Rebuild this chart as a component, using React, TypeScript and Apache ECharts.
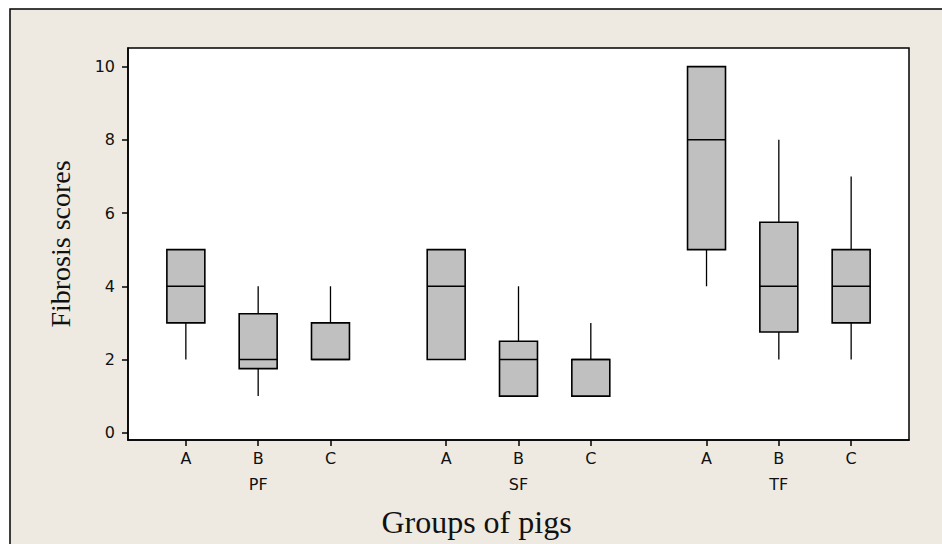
import React, { useEffect, useRef } from "react";
import * as echarts from "echarts";

// Box positions on the x scale (groups separated by a gap)
const X_POS = [1, 2, 3, 4.6, 5.6, 6.6, 8.2, 9.2, 10.2];
const SUB_LABELS = ["A", "B", "C", "A", "B", "C", "A", "B", "C"];
const GROUP_POS = [2, 5.6, 9.2];
const GROUP_LABELS = ["PF", "SF", "TF"];

const MIN = [2, 1, 2, 2, 1, 1, 4, 2, 2];
const Q1 = [3, 1.75, 2, 2, 1, 1, 5, 2.75, 3];
const MED = [4, 2, 2, 4, 2, 2, 8, 4, 4];
const Q3 = [5, 3.25, 3, 5, 2.5, 2, 10, 5.75, 5];
const MAX = [5, 4, 4, 5, 4, 3, 10, 8, 7];

const Y_TICKS = [0, 2, 4, 6, 8, 10];
const BOX_W = 0.525;

export default function App() {
  const ref = useRef<HTMLDivElement>(null);
  useEffect(() => {
    if (!ref.current) return;
    const chart = echarts.init(ref.current, null, { renderer: "svg" });
    const data = X_POS.map((x, i) => [x, MIN[i], Q1[i], MED[i], Q3[i], MAX[i]]);
    const tickFont = { fontFamily: "DejaVu Sans", fontSize: 16, color: "#111" };
    const option: any = {
      animation: false,
      graphic: [
        {
          type: "rect",
          z: -100,
          shape: { x: 10, y: 9, width: 1000, height: 600 },
          style: { fill: "#EEEAE1", stroke: "#000", lineWidth: 1.5 },
          silent: true,
        },
        {
          type: "text",
          x: 476.5,
          y: 522,
          style: {
            text: "Groups of pigs",
            fontFamily: "Liberation Serif",
            fontSize: 32,
            fill: "#111",
            align: "center",
            verticalAlign: "middle",
          },
        },
      ],
      grid: {
        left: 128,
        top: 48,
        right: 33,
        bottom: 104,
        show: true,
        backgroundColor: "#fff",
        borderColor: "#000",
        borderWidth: 1.5,
      },
      xAxis: [
        {
          type: "value",
          min: 0.2,
          max: 11,
          position: "bottom",
          axisLine: { show: true, onZero: false, lineStyle: { color: "#000", width: 1.5 } },
          axisTick: { show: true, length: 6, customValues: X_POS, lineStyle: { color: "#000", width: 1.5 } },
          axisLabel: {
            ...tickFont,
            margin: 10,
            customValues: X_POS,
            formatter: (v: number) => {
              const i = X_POS.findIndex((p) => Math.abs(p - v) < 1e-6);
              return i >= 0 ? SUB_LABELS[i] : "";
            },
          },
          splitLine: { show: false },
        },
        {
          type: "value",
          min: 0.2,
          max: 11,
          position: "bottom",
          offset: 26,
          axisLine: { show: false },
          axisTick: { show: false },
          axisLabel: {
            ...tickFont,
            margin: 10,
            customValues: GROUP_POS,
            formatter: (v: number) => {
              const i = GROUP_POS.findIndex((p) => Math.abs(p - v) < 1e-6);
              return i >= 0 ? GROUP_LABELS[i] : "";
            },
          },
          splitLine: { show: false },
        },
      ],
      yAxis: {
        type: "value",
        min: -0.2,
        max: 10.51,
        name: "Fibrosis scores",
        nameLocation: "middle",
        nameGap: 54,
        nameTextStyle: { fontFamily: "Liberation Serif", fontSize: 28, color: "#111" },
        axisLine: { show: true, onZero: false, lineStyle: { color: "#000", width: 1.5 } },
        axisTick: { show: true, length: 6, customValues: Y_TICKS, lineStyle: { color: "#000", width: 1.5 } },
        axisLabel: { ...tickFont, margin: 13, customValues: Y_TICKS },
        splitLine: { show: false },
      },
      series: [
        {
          type: "custom",
          xAxisIndex: 0,
          yAxisIndex: 0,
          data,
          encode: { x: 0, y: [1, 2, 3, 4, 5] },
          renderItem: (params: any, api: any) => {
            const x = api.value(0);
            const lo = api.coord([x, api.value(1)]);
            const q1 = api.coord([x, api.value(2)]);
            const md = api.coord([x, api.value(3)]);
            const q3 = api.coord([x, api.value(4)]);
            const hi = api.coord([x, api.value(5)]);
            const w = api.size([BOX_W, 0])[0];
            const cx = q1[0];
            const lineStyle = { stroke: "#000", lineWidth: 1.3 };
            return {
              type: "group",
              children: [
                { type: "line", shape: { x1: cx, y1: hi[1], x2: cx, y2: q3[1] }, style: lineStyle },
                { type: "line", shape: { x1: cx, y1: lo[1], x2: cx, y2: q1[1] }, style: lineStyle },
                {
                  type: "rect",
                  shape: { x: cx - w / 2, y: q3[1], width: w, height: q1[1] - q3[1] },
                  style: { fill: "#C0C0C0", stroke: "#000", lineWidth: 1.6 },
                },
                { type: "line", shape: { x1: cx - w / 2, y1: md[1], x2: cx + w / 2, y2: md[1] }, style: { stroke: "#000", lineWidth: 1.5 } },
              ],
            };
          },
        },
      ],
    };
    chart.setOption(option);
    return () => chart.dispose();
  }, []);
  return <div ref={ref} style={{ position: "absolute", left: 0, top: 0, width: 942, height: 544 }} />;
}
